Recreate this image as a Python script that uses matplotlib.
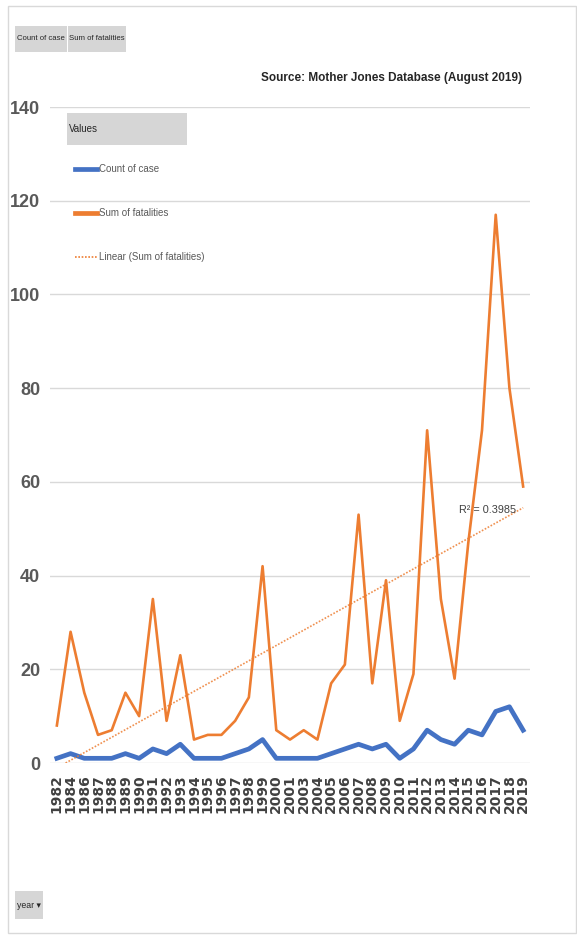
import matplotlib.pyplot as plt
import numpy as np
from matplotlib.patches import Rectangle
from matplotlib.lines import Line2D

years = ['1982', '1984', '1986', '1987', '1988', '1989', '1990', '1991', '1992',
         '1993', '1994', '1995', '1996', '1997', '1998', '1999', '2000', '2001',
         '2003', '2004', '2005', '2006', '2007', '2008', '2009', '2010', '2011',
         '2012', '2013', '2014', '2015', '2016', '2017', '2018', '2019']
count_of_case = [1, 2, 1, 1, 1, 2, 1, 3, 2, 4, 1, 1, 1, 2, 3, 5, 1, 1,
                 1, 1, 2, 3, 4, 3, 4, 1, 3, 7, 5, 4, 7, 6, 11, 12, 7]
sum_of_fatalities = [8, 28, 15, 6, 7, 15, 10, 35, 9, 23, 5, 6, 6, 9, 14, 42, 7, 5,
                     7, 5, 17, 21, 53, 17, 39, 9, 19, 71, 35, 18, 47, 71, 117, 80, 59]
r2_label = 'R² = 0.3985'

BLUE = '#4472C4'
ORANGE = '#ED7D31'
FONT = ['Liberation Sans', 'DejaVu Sans']

fig = plt.figure(figsize=(5.77, 9.36), dpi=100)
W, H = 577, 936

def fx(px):
    return px / W

def fy(py):
    return 1 - py / H

# outer frame
fig.patches.append(Rectangle((fx(8), fy(933)), fx(568), 927 / H, transform=fig.transFigure,
                             fill=False, edgecolor='#D9D9D9', lw=1))

ax = fig.add_axes([fx(50), fy(763), fx(480), 656 / H])
x = np.arange(len(years))
ax.plot(x, count_of_case, color=BLUE, lw=3.4, solid_joinstyle='round')
ax.plot(x, sum_of_fatalities, color=ORANGE, lw=1.9)

# linear trend of fatalities
k, b = np.polyfit(x + 1, sum_of_fatalities, 1)
ax.plot(x, k * (x + 1) + b, color=ORANGE, lw=1.2, ls=(0, (1, 1)), alpha=0.85)
ax.text(len(years) - 1.5, k * len(years) + b - 0.5, r2_label, ha='right', va='center',
        fontsize=7.8, color='#404040', family=FONT)

ax.set_xlim(-0.5, len(years) - 0.5)
ax.set_ylim(0, 140)
ax.set_yticks(range(0, 141, 20))
ax.grid(axis='y', color='#D9D9D9', lw=1)
ax.set_axisbelow(True)
for s in ax.spines.values():
    s.set_visible(False)
ax.tick_params(length=0)
ax.set_xticks(x)
ax.set_xticklabels(years, rotation=90, fontsize=10, fontweight='bold', color='#404040')
ax.tick_params(axis='x', pad=8)
ax.tick_params(axis='y', pad=7)
for t in ax.get_yticklabels():
    t.set_fontsize(13)
    t.set_family(FONT)
    t.set_fontweight('bold')
    t.set_color('#595959')

# source note
fig.text(fx(522), fy(78), 'Source: Mother Jones Database (August 2019)', ha='right', va='center',
         fontsize=8.5, fontweight='bold', color='#262626', family=FONT)

# pivot field buttons
def button(x0, y0, w, h, label, size=6):
    fig.patches.append(Rectangle((fx(x0), fy(y0 + h)), fx(w), h / H, transform=fig.transFigure,
                                 facecolor='#D6D6D6', edgecolor='none'))
    fig.text(fx(x0 + w / 2), fy(y0 + h / 2), label, ha='center', va='center', fontsize=size,
             color='#262626', family=FONT)

button(15, 26, 52, 26, 'Count of case', size=5.6)
button(68, 26, 58, 26, 'Sum of fatalities', size=5.6)
button(15, 891, 28, 28, 'year ▾', size=6.3)
fig.patches.append(Rectangle((fx(67), fy(145)), fx(120), 32 / H, transform=fig.transFigure,
                             facecolor='#D6D6D6', edgecolor='none'))
fig.text(fx(69), fy(129), 'Values', ha='left', va='center', fontsize=7, color='#262626',
         family=FONT)

# legend entries
entries = [('Count of case', BLUE, '-', 3.4), ('Sum of fatalities', ORANGE, '-', 3.4),
           ('Linear (Sum of fatalities)', ORANGE, (0, (1, 1)), 1.2)]
for i, (lab, col, ls, lw) in enumerate(entries):
    yy = 169 + 44 * i
    fig.lines.append(Line2D([fx(75), fx(97)], [fy(yy), fy(yy)], transform=fig.transFigure,
                            color=col, ls=ls, lw=lw))
    fig.text(fx(99), fy(yy), lab, ha='left', va='center', fontsize=7, color='#595959',
             family=FONT)

fig.savefig('out.png', dpi=100, facecolor='white')
